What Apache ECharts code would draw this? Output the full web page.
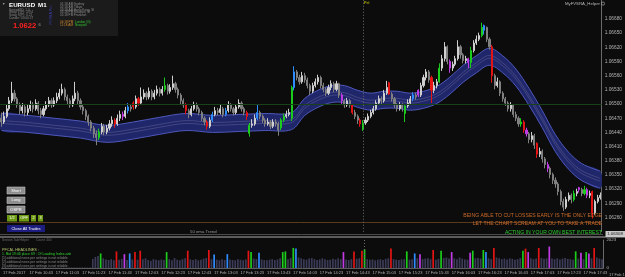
<!DOCTYPE html>
<html><head><meta charset="utf-8">
<script src="https://cdn.jsdelivr.net/npm/echarts@6/dist/echarts.min.js"></script>
<style>html,body{margin:0;padding:0;background:#0c0c0c;}#c{width:625px;height:277px;}</style>
</head><body><div id="c"></div>
<script>
// price values in points above 1.06000 (price = 1.06 + pts/100000)
const times = [
"10:23","10:25","10:27","10:29","10:31","10:33","10:35","10:37","10:39","10:41",
"10:43","10:45","10:47","10:49","10:51","10:53","10:55","10:57","10:59","11:01",
"11:03","11:05","11:07","11:09","11:11","11:13","11:15","11:17","11:19","11:21",
"11:23","11:25","11:27","11:29","11:31","11:33","11:35","11:37","11:39","11:41",
"11:43","11:45","11:47","11:49","11:51","11:53","11:55","11:57","11:59","12:01",
"12:03","12:05","12:07","12:09","12:11","12:13","12:15","12:17","12:19","12:21",
"12:23","12:25","12:27","12:29","12:31","12:33","12:35","12:37","12:39","12:41",
"12:43","12:45","12:47","12:49","12:51","12:53","12:55","12:57","12:59","13:01",
"13:03","13:05","13:07","13:09","13:11","13:13","13:15","13:17","13:19","13:21",
"13:23","13:25","13:27","13:29","13:31","13:33","13:35","13:37","13:39","13:41",
"13:43","13:45","13:47","13:49","13:51","13:53","13:55","13:57","13:59","14:01",
"14:03","14:05","14:07","14:09","14:11","14:13","14:15","14:17","14:19","14:21",
"14:23","14:25","14:27","14:29","14:31","14:33","14:35","14:37","14:39","14:41",
"14:43","14:45","14:47","14:49","14:51","14:53","14:55","14:57","14:59","15:01",
"15:03","15:05","15:07","15:09","15:11","15:13","15:15","15:17","15:19","15:21",
"15:23","15:25","15:27","15:29","15:31","15:33","15:35","15:37","15:39","15:41",
"15:43","15:45","15:47","15:49","15:51","15:53","15:55","15:57","15:59","16:01",
"16:03","16:05","16:07","16:09","16:11","16:13","16:15","16:17","16:19","16:21",
"16:23","16:25","16:27","16:29","16:31","16:33","16:35","16:37","16:39","16:41",
"16:43","16:45","16:47","16:49","16:51","16:53","16:55","16:57","16:59","17:01",
"17:03","17:05","17:07","17:09","17:11","17:13","17:15","17:17","17:19","17:21",
"17:23","17:25","17:27","17:29","17:31","17:33","17:35","17:37","17:39","17:41",
"17:43","17:45","17:47","17:49","17:51","17:53","17:55","17:57"];

const openPts = [
470,462,474,490,507,523,511,498,486,494, 482,490,498,490,502,486,478,490,498,507,
498,507,515,523,531,515,507,498,511,523, 507,494,486,474,462,449,437,429,441,453,
441,449,458,466,458,470,478,474,486,494, 502,494,511,502,515,523,515,527,515,523,
531,523,531,539,527,535,543,531,519,507, 498,486,478,490,498,490,482,470,462,453,
466,478,486,482,490,478,486,498,490,482, 494,502,490,482,438,455,458,470,482,474,
466,458,462,453,462,458,450,466,474,478, 470,535,568,556,547,560,551,539,527,539,
547,556,539,531,523,535,543,531,543,519, 507,498,507,498,482,474,466,447,460,466,
474,482,490,502,511,507,523,545,521,511, 498,490,498,480,496,502,511,519,529,519,
539,556,568,556,529,539,547,576,596,621, 590,576,584,596,621,604,592,596,588,613,
629,637,645,656,662,637,621,560,539,547, 523,511,502,490,498,478,470,458,462,445,
437,425,433,417,394,400,384,372,364,351, 339,331,315,294,282,298,307,298,311,323,
319,311,319,307,315,270,294,302];
const closePts = [
462,474,490,507,523,511,498,486,494,482, 490,498,490,502,486,478,490,498,507,498,
507,515,523,531,515,507,498,511,523,507, 494,486,474,462,449,437,429,441,453,441,
449,458,466,458,470,478,474,486,494,490, 494,511,502,515,523,515,527,515,523,531,
523,531,539,527,535,543,531,519,507,498, 486,478,490,498,490,482,470,462,453,466,
478,486,482,490,478,486,498,490,482,494, 502,490,482,474,455,458,470,482,474,466,
458,462,453,462,458,445,466,474,478,482, 535,568,556,547,560,551,539,527,539,547,
556,539,531,523,535,543,531,543,519,507, 498,507,498,482,474,466,458,460,466,474,
482,490,502,511,507,523,535,521,511,498, 490,498,490,496,502,511,519,515,519,539,
556,568,551,529,539,547,576,596,621,590, 576,584,596,621,604,592,596,588,613,629,
637,645,662,666,637,621,560,539,547,523, 511,502,490,498,478,470,458,462,445,437,
425,433,413,394,400,384,372,364,351,339, 331,315,294,282,298,307,298,311,315,319,
311,319,307,311,270,294,302,307];
const highPts = [
482,484,498,515,547,530,515,503,502,498, 500,507,504,510,506,492,496,506,515,512,
514,524,532,543,535,520,512,518,547,528, 512,500,490,478,466,454,444,448,460,458,
456,466,474,470,478,486,484,494,502,500, 506,518,515,535,531,527,535,531,530,539,
535,538,556,543,542,560,547,535,523,512, 502,490,496,505,503,494,486,474,466,472,
484,494,492,498,494,492,506,502,494,500, 510,506,494,486,460,468,478,498,486,478,
470,470,466,468,468,462,470,480,486,490, 539,580,572,562,568,566,556,543,545,554,
562,560,545,535,541,550,547,549,545,523, 511,513,511,500,488,478,470,466,472,480,
488,496,508,518,516,530,549,547,525,515, 502,504,502,500,510,517,525,524,531,545,
562,574,572,560,547,553,586,604,631,624, 594,590,602,635,625,608,602,598,621,635,
645,651,672,668,664,641,625,564,556,550, 527,515,506,504,500,484,474,470,466,450,
441,441,437,419,408,404,388,378,368,355, 345,335,319,300,304,313,311,317,321,325,
323,327,323,317,317,298,308,313];
const lowPts = [
452,458,470,486,502,505,492,478,480,474, 476,485,482,486,478,470,474,486,494,492,
494,502,510,518,508,500,492,494,506,500, 488,478,466,454,442,428,413,424,436,434,
436,444,452,450,454,464,466,470,480,484, 488,490,496,498,510,508,510,508,510,518,
516,518,526,520,522,530,524,512,500,492, 478,470,474,486,484,476,464,455,446,449,
462,474,476,478,472,474,482,484,476,478, 490,484,476,466,431,450,454,466,468,460,
452,454,447,449,452,433,445,462,470,474, 464,529,550,541,543,545,533,519,523,535,
541,533,525,517,519,529,525,527,513,500, 492,494,492,478,468,458,452,443,456,462,
470,478,486,498,500,503,519,519,505,492, 484,486,484,462,492,498,506,509,515,515,
535,550,545,502,523,533,545,570,590,584, 566,570,580,592,596,586,586,576,576,609,
625,633,641,647,631,615,545,531,535,517, 505,496,484,484,472,464,452,452,439,431,
417,419,405,386,388,376,364,356,343,331, 323,307,286,274,278,294,290,294,305,313,
305,307,301,301,258,266,290,298];
const volumes = [
620,540,700,780,900,650,560,480,600,520, 580,640,500,560,720,610,530,470,650,590,
540,600,680,720,560,500,620,580,760,640, 560,600,680,720,650,800,860,1050,700,620,
580,640,560,1200,600,660,1000,580,1050,620, 1150,600,1250,640,700,580,520,640,600,560,
620,580,1150,640,560,720,600,560,640,700, 1250,620,580,640,560,600,680,720,1300,640,
980,600,560,640,580,1000,620,580,560,640, 600,560,620,1250,1150,680,640,1100,620,580,
560,600,640,580,620,700,1150,1200,640,720, 1450,1400,760,700,640,600,680,720,640,580,
620,700,640,580,600,660,620,700,640,1150, 620,580,640,1200,660,700,1250,1350,640,600,
620,560,600,640,580,660,700,1400,640,600, 580,620,640,1200,600,640,1050,700,1000,640,
680,700,640,1300,600,660,1250,720,760,680, 1150,700,640,760,680,620,600,1100,1250,700,
720,680,1300,1150,700,640,1450,760,700,640, 680,620,700,660,600,640,720,1250,1400,1150,
700,640,680,1450,720,660,700,1550,680,640, 700,620,680,720,660,640,600,1200,680,1100,
640,1150,1050,700,1450,760,680,640];
// PVSRA candle classes (bar indices)
const climaxUpIdx = [37,62,94,106,107,110,137,153,166,178,182,197,217,221];
const climaxDnIdx = [43,50,52,70,78,93,133,136,147,163,186,198,203,224];
const risingUpIdx = [48,80,85,97,111,156,183];
const risingDnIdx = [46,129,158,170,177,199,207,219,222];
// 50 EMA trend band, read at sampled bars
const bandIdx   = [0,10,20,30,40,50,60,70,80,90,100,110,115,120,125,130,135,140,145,150,155,160,165,170,175,180,185,190,195,200,205,210,215,220,227];
const bandUpper = [480,476,470,464,455,462,472,480,476,478,480,482,512,529,539,539,529,523,527,527,523,527,537,557,582,602,618,602,574,533,486,435,398,374,358];
const bandLower = [444,440,434,428,419,426,436,444,440,442,444,446,476,493,503,503,493,487,491,491,487,491,501,521,546,566,582,566,538,497,450,399,362,338,322];
// axis tick labels
const yTickPts  = [260,290,320,350,380,410,440,470,500,530,560,590,620,650,680];
const yTickText = ["1.06260","1.06290","1.06320","1.06350","1.06380","1.06410","1.06440","1.06470","1.06500","1.06530","1.06560","1.06590","1.06620","1.06650","1.06680"];
const xTickIdx  = [0,10,20,30,40,50,60,70,80,90,100,110,120,130,140,150,160,170,180,190,200,210,220];
const xTickText = ["17 Feb 2017","17 Feb 10:43","17 Feb 11:03","17 Feb 11:23","17 Feb 11:43","17 Feb 12:03","17 Feb 12:23","17 Feb 12:43","17 Feb 13:03","17 Feb 13:23","17 Feb 13:43","17 Feb 14:03","17 Feb 14:23","17 Feb 14:43","17 Feb 15:03","17 Feb 15:23","17 Feb 15:43","17 Feb 16:03","17 Feb 16:23","17 Feb 16:43","17 Feb 17:03","17 Feb 17:23","17 Feb 17:43"];
const volTickVals = [0,2023];

const COL = {up:'#cfcfcf', dn:'#808080', cUp:'#1ccc1c', cDn:'#e41414', rUp:'#2f8cff', rDn:'#c23ce6', vol:'#3b3b58'};
function kindOf(i){
  if (climaxUpIdx.includes(i)) return 'cUp';
  if (climaxDnIdx.includes(i)) return 'cDn';
  if (risingUpIdx.includes(i)) return 'rUp';
  if (risingDnIdx.includes(i)) return 'rDn';
  return null;
}
const candleData = openPts.map((o,i)=>{
  const k = kindOf(i);
  const c = k ? COL[k] : (closePts[i]>=o ? COL.up : COL.dn);
  return {value:[o, closePts[i], lowPts[i], highPts[i]], itemStyle:{color:c,color0:c,borderColor:c,borderColor0:c}};
});
const volData = volumes.map((v,i)=>{
  const k = kindOf(i);
  return {value:v, itemStyle:{color: k ? COL[k] : COL.vol}};
});

function bandRender(params, api){
  if (params.dataIndex !== 0) return;
  const up = bandIdx.map((ix,k)=>api.coord([ix, bandUpper[k]]));
  const lo = bandIdx.map((ix,k)=>api.coord([ix, bandLower[k]]));
  const m1 = bandIdx.map((ix,k)=>api.coord([ix, (bandUpper[k]+bandLower[k])/2 + 3]));
  const m2 = bandIdx.map((ix,k)=>api.coord([ix, (bandUpper[k]+bandLower[k])/2 - 3]));
  const pl = (pts, col, w)=>({type:'polyline', shape:{points:pts, smooth:0.35}, style:{stroke:col, lineWidth:w, fill:null}});
  return {type:'group', children:[
    {type:'polygon', shape:{points: up.concat(lo.slice().reverse()), smooth:0.35}, style:{fill:'#20266a'}},
    pl(up,'#4e58bc',1), pl(lo,'#4e58bc',1), pl(m1,'#4a4f86',0.8), pl(m2,'#4a4f86',0.8)
  ]};
}

const FONT = '"Liberation Sans", Arial, sans-serif';
function T(x,y,text,size,fill,o){ o=o||{}; return {type:'text', z:100, x:x, y:y, rotation:o.rot||0, style:{text:text, fill:fill, font:(o.bold?'bold ':'')+size+'px '+FONT, align:o.align||'left', verticalAlign:o.va||'middle'}}; }
function R(x,y,w,h,fill,stroke){ return {type:'rect', z:99, shape:{x:x,y:y,width:w,height:h}, style:{fill:fill, stroke:stroke||null, lineWidth:stroke?0.6:0}}; }
function L(x1,y1,x2,y2,col,w){ return {type:'line', z:98, shape:{x1:x1,y1:y1,x2:x2,y2:y2}, style:{stroke:col, lineWidth:w||1}}; }

const graphics = [
  // info panel
  R(0,0,118,36,'#1b1b1b'),
  T(2,4,'▼',3.5,'#9a9a9a'),
  T(9,5,'EURUSD',6.2,'#ffffff',{bold:true}),
  T(38,5,'M1',6.2,'#ffffff',{bold:true}),
  T(9,9.8,'Spread(P): 1.0',3.2,'#858585'),
  T(9,12.5,'Swap L(P): -0.94',3.2,'#858585'),
  T(9,15.2,'Swap S(P): 0.21',3.2,'#858585'),
  T(9,17.9,'Candle: 00:00:27',3.2,'#858585'),
  T(13,25.5,'1.0622',7.6,'#ff2020',{bold:true}),
  T(38.5,24.5,'6',4,'#a0a0a0'),
  T(51,15,'PVSRA Pro',3.6,'#3c3cb4',{rot:Math.PI/2,align:'center'}),
  T(60,4,'01:18 AM Sydney',3.1,'#8c8c8c'),
  T(60,7,'02:18 AM Tokyo',3.1,'#8c8c8c'),
  T(60,9.8,'03:18 AM Hong Kong, Sl',3.1,'#8c8c8c'),
  T(60,12.6,'05:18 PM Moscow, Sl',3.1,'#8c8c8c'),
  T(60,15.3,'05:18 PM Frankfurt',3.1,'#8c8c8c'),
  T(60,22,'04:18 PM',3.1,'#d08a30'), T(75,22,'London (G)',3.1,'#30c030'),
  T(60,25,'11:18 AM',3.1,'#d08a30'), T(75,25,'Newyork',3.1,'#30c030'),
  // top right label
  T(600,3.6,'MyFVSRA_Helper',4.3,'#b8b8b8',{align:'right'}),
  {type:'circle', z:100, shape:{cx:603,cy:3.6,r:1.6}, style:{fill:null, stroke:'#b8b8b8', lineWidth:0.6}},
  T(364,3,'Fri',4.3,'#a8a800',{bold:true}),
  // buttons
  R(7,187,18,7,'#8e8e8e','#c0c0c0'), T(16,190.5,'Short',4,'#ffffff',{align:'center'}),
  R(7,197,18,6.5,'#8e8e8e','#c0c0c0'), T(16,200.3,'Long',4,'#ffffff',{align:'center'}),
  R(7,206,18,7,'#8e8e8e','#c0c0c0'), T(16,209.5,'OSPR',4,'#ffffff',{align:'center'}),
  R(7,215,10,6.5,'#6c9a12'), T(12,218.3,'1/2',3.8,'#ffffff',{align:'center'}),
  R(19,215,10,6.5,'#6c9a12'), T(24,218.3,'OFF',3.8,'#ffffff',{align:'center'}),
  R(31,215,5,6.5,'#6c9a12'), T(33.5,218.3,'2',3.8,'#ffffff',{align:'center'}),
  R(38,215,5,6.5,'#6c9a12'), T(40.5,218.3,'3',3.8,'#ffffff',{align:'center'}),
  R(7,225,38,7,'#1d1d80'), T(26,228.5,'Close All Trades',4,'#ffffff',{align:'center'}),
  // quotes
  T(602,215.7,'BEING ABLE TO CUT LOSSES EARLY IS THE ONLY EDGE',5.1,'#cc6a2a',{align:'right'}),
  T(602,224,'LET THE CHART SCREAM AT YOU TO TAKE A TRADE',5.1,'#cc6a2a',{align:'right'}),
  T(602,232.2,'ACTING IN YOUR OWN BEST INTEREST',5.1,'#2ec82e',{align:'right'}),
  // separators
  L(0,234.5,603,234.5,'#4a4a4a',1),
  L(0,237,625,237,'#767676',1.4),
  T(190,231.5,'50 ema Trend',4.3,'#9a9a9a'),
  // price box
  R(605.5,231,19.5,6,'#c9c9c9'), T(615,234,'1.06308',4.3,'#202020',{align:'center'}),
  // sub window texts
  R(0,238.5,92,29,'#0c0c0c'),
  T(2,240.5,'Section Tab Helper        Count: 400',3.2,'#6c6c6c'),
  T(2,250,'PFCAL HEADLINES :',3.8,'#b8c870'),
  T(2,254,'1. Bid 19:46 place 69 : Of Loading Index.ade',3.5,'#30d030'),
  T(2,258,'[1] additional news per settings is not reliable',3.3,'#8c8c8c'),
  T(2,262,'[2] additional news per settings is not reliable',3.3,'#8c8c8c'),
  T(2,266,'[3] additional news per settings is not reliable',3.3,'#8c8c8c'),
  T(609,274.5,'17 Feb 18:03',4,'#b0b0b0')
];

const chart = echarts.init(document.getElementById('c'), null, {renderer:'canvas'});
chart.setOption({
  animation:false,
  backgroundColor:'#0c0c0c',
  grid:[
    {left:-0.8, right:21.6, top:-8.62, height:240.35},
    {left:-0.8, right:21.6, top:240, height:28}
  ],
  xAxis:[
    {gridIndex:0, type:'category', data:times, boundaryGap:true, axisLine:{show:false}, axisTick:{show:false}, axisLabel:{show:false}, splitLine:{show:false}},
    {gridIndex:1, type:'category', data:times, boundaryGap:true,
     axisLine:{show:true, lineStyle:{color:'#5c5c5c', width:1}}, axisTick:{show:false},
     axisLabel:{show:true, interval:(idx)=>xTickIdx.includes(idx), formatter:(v,idx)=>{const k=xTickIdx.indexOf(idx); return k>=0?xTickText[k]:'';},
       color:'#b0b0b0', fontSize:4, fontFamily:'Liberation Sans', align:'left', margin:3, hideOverlap:false}, splitLine:{show:false}}
  ],
  yAxis:[
    {gridIndex:0, type:'value', position:'right', min:230, max:720, interval:30,
     axisLine:{show:true, lineStyle:{color:'#6a6a6a'}}, axisTick:{show:false}, splitLine:{show:false},
     axisLabel:{color:'#b4b4b4', fontSize:4.8, fontFamily:'Liberation Sans', margin:3,
       formatter:(v)=>{const k=yTickPts.indexOf(Math.round(v)); return k>=0?yTickText[k]:'';}}},
    {gridIndex:1, type:'value', position:'right', min:0, max:2023, interval:2023,
     axisLine:{show:true, lineStyle:{color:'#6a6a6a'}}, axisTick:{show:false}, splitLine:{show:false},
     axisLabel:{color:'#b4b4b4', fontSize:4.4, fontFamily:'Liberation Sans', margin:3,
       formatter:(v)=>volTickVals.includes(Math.round(v))?String(Math.round(v)):''}}
  ],
  series:[
    {type:'custom', xAxisIndex:0, yAxisIndex:0, renderItem:bandRender, data:[[0,500]], z:1, silent:true, clip:true},
    {type:'candlestick', xAxisIndex:0, yAxisIndex:0, data:candleData, barWidth:1.6, z:2, silent:true,
     markLine:{silent:true, symbol:'none', label:{show:false}, animation:false, data:[
       {yAxis:500, lineStyle:{color:'#1a421a', width:1, type:'solid'}},
       {yAxis:250, lineStyle:{color:'#5a3a1c', width:1, type:'solid'}},
       {xAxis:137, lineStyle:{color:'#707070', width:1, type:[1,2]}}
     ]}},
    {type:'bar', xAxisIndex:1, yAxisIndex:1, data:volData, barWidth:1.7, silent:true,
     markLine:{silent:true, symbol:'none', label:{show:false}, animation:false, data:[
       {xAxis:137, lineStyle:{color:'#707070', width:1, type:[1,2]}}]}}
  ],
  graphic:graphics
});
</script>
</body></html>
